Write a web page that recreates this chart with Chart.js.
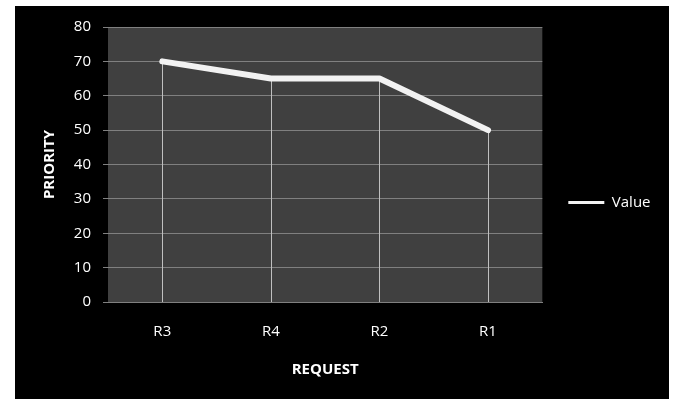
<!DOCTYPE html>
<html>
<head>
<meta charset="utf-8">
<script src="https://cdn.jsdelivr.net/npm/chart.js@4/dist/chart.umd.min.js"></script>
<style>
  html, body { margin: 0; padding: 0; background: #ffffff; }
  #frame { position: absolute; left: 15px; top: 6px; width: 654px; height: 393px; background: #000000; }
  #chart { display: block; }
</style>
</head>
<body>
<div id="frame"><canvas id="chart" width="654" height="393"></canvas></div>
<script>
// Request priorities
const requests = ['R3', 'R4', 'R2', 'R1'];
const priorities = [70, 65, 65, 50];
const seriesName = 'Value';
const xTitle = 'REQUEST';
const yTitle = 'PRIORITY';

const FONT = "'Open Sans', 'Noto Sans', sans-serif";

// Dark plot background inside the chart area
const plotBackground = {
  id: 'plotBackground',
  beforeDraw(chart) {
    const { ctx, chartArea: a } = chart;
    ctx.save();
    ctx.fillStyle = '#404040';
    ctx.fillRect(a.left, a.top, a.right - a.left, a.bottom - a.top);
    ctx.restore();
  }
};

// Vertical drop lines from each point down to the category axis
const dropLines = {
  id: 'dropLines',
  beforeDatasetsDraw(chart) {
    const { ctx } = chart;
    const yScale = chart.scales.y;
    const meta = chart.getDatasetMeta(0);
    ctx.save();
    ctx.strokeStyle = '#c0c0c0';
    ctx.lineWidth = 1;
    meta.data.forEach(pt => {
      const x = Math.round(pt.x) + 0.5;
      ctx.beginPath();
      ctx.moveTo(x, pt.y);
      ctx.lineTo(x, yScale.bottom);
      ctx.stroke();
    });
    ctx.restore();
  }
};

new Chart(document.getElementById('chart'), {
  type: 'line',
  data: {
    labels: requests,
    datasets: [{
      label: seriesName,
      data: priorities,
      borderColor: '#f2f2f2',
      backgroundColor: '#f2f2f2',
      borderWidth: 6,
      borderCapStyle: 'round',
      borderJoinStyle: 'round',
      pointRadius: 0,
      pointHoverRadius: 0,
      tension: 0,
      fill: false
    }]
  },
  options: {
    responsive: false,
    animation: false,
    events: [],
    layout: { padding: { left: 0, right: 8.5, top: 0, bottom: 0 } },
    plugins: {
      tooltip: { enabled: false },
      legend: {
        position: 'right',
        labels: {
          color: '#ffffff',
          font: { family: FONT, size: 15 },
          usePointStyle: true,
          pointStyleWidth: 36,
          padding: 26,
          generateLabels(chart) {
            const ds = chart.data.datasets[0];
            return [{
              text: ds.label,
              fillStyle: ds.borderColor,
              strokeStyle: ds.borderColor,
              fontColor: '#ffffff',
              lineWidth: 3,
              pointStyle: 'line',
              lineCap: 'butt',
              datasetIndex: 0,
              hidden: false
            }];
          }
        }
      }
    },
    scales: {
      x: {
        type: 'category',
        position: 'bottom',
        offset: true,
        afterFit(s) { s.height = 97; },
        grid: { display: false, drawTicks: false },
        border: { display: true, color: '#808080', width: 1 },
        ticks: { color: '#ffffff', padding: 21, font: { family: FONT, size: 15 } },
        title: {
          display: true,
          text: xTitle,
          color: '#ffffff',
          font: { family: FONT, size: 15, weight: 'bold' },
          padding: { top: 0, bottom: 20 }
        }
      },
      xTop: {
        type: 'category',
        position: 'top',
        labels: requests,
        afterFit(s) { s.height = 20; },
        grid: { display: false, drawTicks: false },
        border: { display: false },
        ticks: { display: false }
      },
      y: {
        min: 0,
        max: 80,
        afterFit(s) { s.width = 93; },
        ticks: {
          stepSize: 10,
          color: '#ffffff',
          padding: 12,
          font: { family: FONT, size: 15 }
        },
        grid: { color: '#808080', lineWidth: 1, drawTicks: true, tickLength: 5 },
        border: { display: false },
        title: {
          display: true,
          text: yTitle,
          color: '#ffffff',
          font: { family: FONT, size: 15, weight: 'bold' },
          padding: { top: 26, bottom: 0 }
        }
      }
    }
  },
  plugins: [plotBackground, dropLines]
});
</script>
</body>
</html>
